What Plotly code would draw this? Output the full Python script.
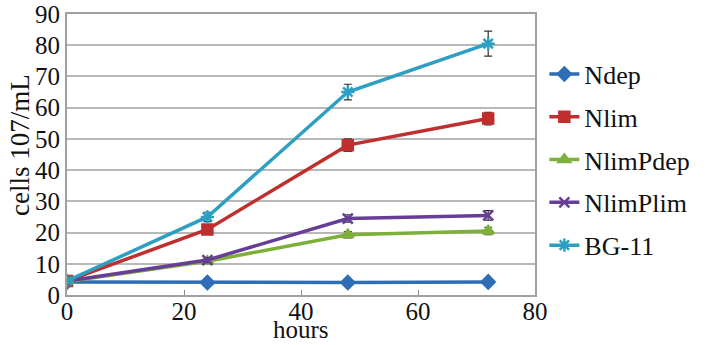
import plotly.graph_objects as go

hours = [0, 24, 48, 72]
ndep = [4.2, 4.0, 4.0, 4.2]
nlim = [4.5, 21, 48, 56.5]
nlimpdep = [4.3, 10.8, 19.3, 20.5]
nlimplim = [4.5, 11.2, 24.5, 25.5]
bg11 = [4.5, 25, 65, 80.5]

ndep_err = [0.5, 0.5, 0.5, 0.5]
nlim_err = [1, 1, 2, 2]
nlimpdep_err = [0.5, 0.8, 1, 1.2]
nlimplim_err = [0.5, 0.8, 1.2, 1.5]
bg11_err = [1, 1.5, 2.5, 4]

series = [
    ("Ndep", ndep, ndep_err, "#2F6DB5", "diamond", 10),
    ("Nlim", nlim, nlim_err, "#BE2F2E", "square", 10),
    ("NlimPdep", nlimpdep, nlimpdep_err, "#7DB03B", "triangle-up", 10),
    ("NlimPlim", nlimplim, nlimplim_err, "#673E96", "x-thin-open", 10),
    ("BG-11", bg11, bg11_err, "#2C9FC2", "asterisk-open", 11),
]

fig = go.Figure()
for name, vals, err, color, sym, size in series:
    fig.add_trace(go.Scatter(
        x=hours, y=vals, name=name, mode="lines+markers",
        legendgroup=name,
        line=dict(color=color, width=3.5),
        marker=dict(symbol=sym, size=size, color=color,
                    line=dict(color=color, width=2.5)),
        error_y=dict(type="data", array=err, visible=True,
                     color="#333333", thickness=1.2, width=4),
    ))

font = "Liberation Serif, Times New Roman, serif"
fig.update_layout(
    width=712, height=345,
    margin=dict(l=67, r=177, t=14, b=50),
    paper_bgcolor="white", plot_bgcolor="white",
    font=dict(family=font, size=25, color="#111111"),
    legend=dict(x=1.02, y=0.87, xanchor="left", yanchor="top",
                font=dict(family=font, size=26, color="#111111"),
                tracegroupgap=6, itemwidth=30, bgcolor="rgba(0,0,0,0)"),
    xaxis=dict(range=[0, 80], dtick=20, showgrid=False, zeroline=False,
               automargin=False, ticklabelstandoff=-7,
               showline=True, linecolor="#A0A0A0", linewidth=2, mirror=True,
               ticks="inside", ticklen=5, tickcolor="#888888",
               tickfont=dict(family=font, size=25)),
    yaxis=dict(range=[0, 90], dtick=10, showgrid=True, gridcolor="#B8B8B8",
               gridwidth=1.5, zeroline=False, automargin=False,
               showline=True, linecolor="#A0A0A0", linewidth=2, mirror=True,
               ticks="", tickfont=dict(family=font, size=25)),
    annotations=[
        dict(text="hours", x=0.5, y=0, xref="paper", yref="paper",
             xanchor="center", yanchor="bottom", yshift=-50, showarrow=False,
             font=dict(family=font, size=25, color="#111111")),
        dict(text="cells 107/mL", x=0, y=0.534, xref="paper", yref="paper",
             xanchor="center", yanchor="middle", xshift=-47, textangle=-90,
             showarrow=False, font=dict(family=font, size=27, color="#111111")),
    ],
)

fig.write_html("out.html", config={"displayModeBar": False},
               post_script="document.body.style.margin='0';")
